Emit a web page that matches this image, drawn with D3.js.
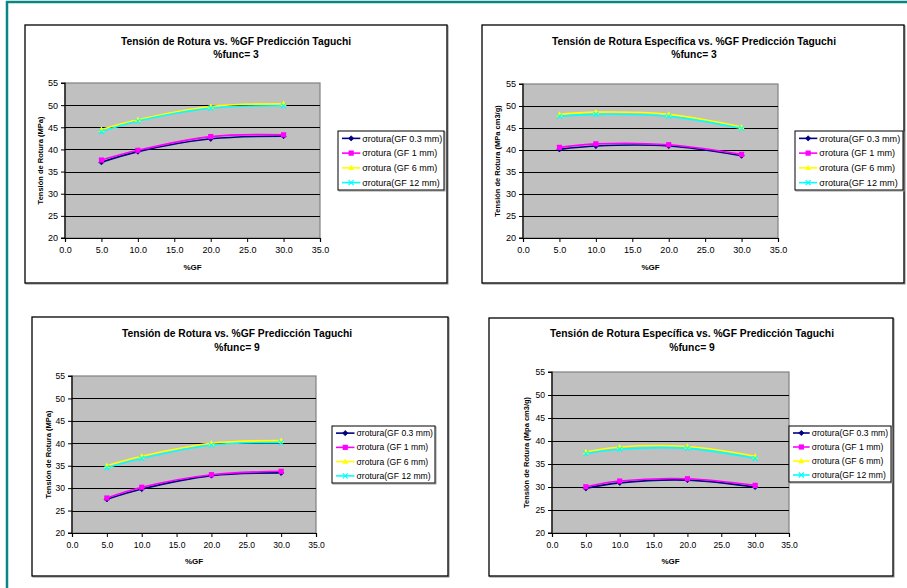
<!DOCTYPE html>
<html><head><meta charset="utf-8">
<script src="https://cdn.jsdelivr.net/npm/d3@7"></script>
<style>body{margin:0;background:#fff} svg{display:block;font-family:"Liberation Sans",Arial,sans-serif}</style>
</head><body><svg id="c" width="907" height="588"></svg>
<script>
// ---- data ----
const gfPercent = [5, 10, 20, 30];
const seriesNames = ["σrotura(GF 0.3 mm)", "σrotura (GF 1 mm)", "σrotura (GF 6 mm)", "σrotura(GF 12 mm)"];
const xTickValues = [0, 5, 10, 15, 20, 25, 30, 35];
const yTickValues = [20, 25, 30, 35, 40, 45, 50, 55];

// Tensión de Rotura, %func = 3
const tr3_gf03 = [37.1, 39.5, 42.4, 43.0];
const tr3_gf1  = [37.6, 39.8, 42.9, 43.3];
const tr3_gf6  = [44.5, 46.7, 49.7, 50.3];
const tr3_gf12 = [44.0, 46.4, 49.3, 49.85];
// Tensión de Rotura Específica, %func = 3
const tre3_gf03 = [40.15, 40.9, 40.9, 38.7];
const tre3_gf1  = [40.6, 41.4, 41.2, 39.0];
const tre3_gf6  = [48.1, 48.6, 48.1, 45.2];
const tre3_gf12 = [47.65, 48.1, 47.65, 44.9];
// Tensión de Rotura, %func = 9
const tr9_gf03 = [27.5, 29.8, 32.8, 33.4];
const tr9_gf1  = [27.8, 30.2, 33.0, 33.75];
const tr9_gf6  = [35.0, 37.1, 40.0, 40.6];
const tr9_gf12 = [34.55, 36.6, 39.6, 40.15];
// Tensión de Rotura Específica, %func = 9
const tre9_gf03 = [29.7, 30.9, 31.5, 30.0];
const tre9_gf1  = [30.05, 31.3, 31.8, 30.35];
const tre9_gf6  = [37.6, 38.7, 38.8, 36.7];
const tre9_gf12 = [37.25, 38.2, 38.4, 36.2];

const titles1 = ["Tensión de Rotura vs. %GF Predicción Taguchi", "Tensión de Rotura Específica vs. %GF Predicción Taguchi",
                 "Tensión de Rotura vs. %GF Predicción Taguchi", "Tensión de Rotura Específica vs. %GF Predicción Taguchi"];
const titles2 = ["%func= 3", "%func= 3", "%func= 9", "%func= 9"];
const yLabels = ["Tensión de Rotura (MPa)", "Tensión de Rotura (MPa cm3/g)", "Tensión de Rotura (MPa)", "Tensión de Rotura (Mpa cm3/g)"];
const xLabel = "%GF";

// ---- styles / layout ----
const colors = ["#000080", "#FF00FF", "#FFFF00", "#00FFFF"];
const markerTypes = ["diamond", "square", "triangle", "x"];
const panels = [
  {data: [tr3_gf03, tr3_gf1, tr3_gf6, tr3_gf12], box: [25, 25, 447, 283], plot: [65, 83, 320, 238], legend: [338, 131, 444, 190], t1: 44.5, tcx: 236, ylx: 40, xly: 270, fs: 9, tx: 24.3},
  {data: [tre3_gf03, tre3_gf1, tre3_gf6, tre3_gf12], box: [482, 25, 904, 283], plot: [523, 84, 778, 238], legend: [795, 131, 903, 190], t1: 44.5, tcx: 694, ylx: 497, xly: 270, fs: 9.1, tx: 24.3},
  {data: [tr9_gf03, tr9_gf1, tr9_gf6, tr9_gf12], box: [32, 317, 448, 576], plot: [72, 376, 316, 533], legend: [332, 426, 435, 483], t1: 337, tcx: 237, ylx: 48, xly: 564, fs: 8.6, tx: 24.5},
  {data: [tre9_gf03, tre9_gf1, tre9_gf6, tre9_gf12], box: [489, 318, 893, 576], plot: [552, 372, 789, 533], legend: [789, 426, 891, 482], t1: 337, tcx: 692, ylx: 526, xly: 564, fs: 8.6, tx: 22.7}
];

const svg = d3.select("#c");
svg.append("rect").attr("width", 907).attr("height", 588).attr("fill", "#fff");
// teal frame (top and left)
svg.append("line").attr("x1", 6).attr("x2", 907).attr("y1", 2).attr("y2", 2).attr("stroke", "#0A8582").attr("stroke-width", 2.5);
svg.append("line").attr("x1", 7).attr("x2", 7).attr("y1", 1).attr("y2", 588).attr("stroke", "#0A8582").attr("stroke-width", 2.5);

function drawMarker(g, type, x, y, color) {
  const s = 2.6;
  if (type === "diamond") {
    g.append("path").attr("d", `M${x},${y - s}L${x + s},${y}L${x},${y + s}L${x - s},${y}Z`).attr("fill", color).attr("stroke", color).attr("stroke-width", 0.8);
  } else if (type === "square") {
    g.append("rect").attr("x", x - 2.6).attr("y", y - 2.6).attr("width", 5.2).attr("height", 5.2).attr("fill", color);
  } else if (type === "triangle") {
    g.append("path").attr("d", `M${x},${y - 3.2}L${x + 3},${y + 2.2}L${x - 3},${y + 2.2}Z`).attr("fill", color);
  } else {
    g.append("path").attr("d", `M${x - 2.5},${y - 2.5}L${x + 2.5},${y + 2.5}M${x - 2.5},${y + 2.5}L${x + 2.5},${y - 2.5}`).attr("stroke", color).attr("stroke-width", 1.2);
  }
}

panels.forEach((p, i) => {
  const g = svg.append("g");
  const [bx0, by0, bx1, by1] = p.box;
  const [px0, py0, px1, py1] = p.plot;
  // panel frame
  g.append("rect").attr("x", bx0 + 1).attr("y", by0 + 1).attr("width", bx1 - bx0).attr("height", by1 - by0).attr("fill", "none").attr("stroke", "#888").attr("stroke-width", 1);
  g.append("rect").attr("x", bx0).attr("y", by0).attr("width", bx1 - bx0).attr("height", by1 - by0).attr("fill", "#fff").attr("stroke", "#000").attr("stroke-width", 1.3);

  const x = d3.scaleLinear().domain([0, 35]).range([px0, px1]);
  const y = d3.scaleLinear().domain([20, 55]).range([py1, py0]);

  // plot area
  g.append("rect").attr("x", px0).attr("y", py0).attr("width", px1 - px0).attr("height", py1 - py0).attr("fill", "#C0C0C0").attr("stroke", "#808080").attr("stroke-width", 1.2);
  // gridlines
  g.append("g").selectAll("line").data(yTickValues.filter(v => v > 20 && v < 55)).join("line")
    .attr("x1", px0).attr("x2", px1).attr("y1", d => Math.round(y(d)) + 0.5).attr("y2", d => Math.round(y(d)) + 0.5)
    .attr("stroke", "#000").attr("stroke-width", 1);

  // axes
  const yAxis = g.append("g").attr("transform", `translate(${px0},0)`)
    .call(d3.axisLeft(y).tickValues(yTickValues).tickSize(4).tickPadding(3).tickFormat(d3.format("d")));
  const xAxis = g.append("g").attr("transform", `translate(0,${py1})`)
    .call(d3.axisBottom(x).tickValues(xTickValues).tickSize(4).tickPadding(5).tickFormat(d3.format(".1f")));
  [yAxis, xAxis].forEach(a => {
    a.select(".domain").attr("stroke", "#000").attr("stroke-width", 1.2);
    a.selectAll(".tick line").attr("stroke", "#000");
    a.selectAll("text").attr("font-family", "Liberation Sans, Arial, sans-serif").attr("font-size", p.fs).attr("fill", "#000");
  });
  yAxis.select(".domain").attr("d", `M-4,${py0}H0V${py1}H-4`);

  // titles
  g.append("text").attr("x", p.tcx).attr("y", p.t1).attr("text-anchor", "middle").attr("font-weight", "bold").attr("font-size", 10.3).text(titles1[i]);
  g.append("text").attr("x", p.tcx).attr("y", p.t1 + 13.5).attr("text-anchor", "middle").attr("font-weight", "bold").attr("font-size", 10.3).text(titles2[i]);
  g.append("text").attr("x", (px0 + px1) / 2).attr("y", p.xly).attr("text-anchor", "middle").attr("font-weight", "bold").attr("font-size", 8).text(xLabel);
  g.append("text").attr("transform", `translate(${p.ylx},${(py0 + py1) / 2}) rotate(-90)`).attr("text-anchor", "middle")
    .attr("dy", "0.35em").attr("font-weight", "bold").attr("font-size", 7.5).text(yLabels[i]);

  // series
  const line = d3.line().x((d, k) => x(gfPercent[k])).y(d => y(d)).curve(d3.curveCatmullRom.alpha(0.5));
  p.data.forEach((vals, s) => {
    g.append("path").attr("d", line(vals)).attr("fill", "none").attr("stroke", colors[s]).attr("stroke-width", 1.6);
  });
  p.data.forEach((vals, s) => {
    vals.forEach((v, k) => drawMarker(g, markerTypes[s], x(gfPercent[k]), y(v), colors[s]));
  });

  // legend
  const [lx0, ly0, lx1, ly1] = p.legend;
  g.append("rect").attr("x", lx0 + 1).attr("y", ly0 + 1).attr("width", lx1 - lx0).attr("height", ly1 - ly0).attr("fill", "none").attr("stroke", "#999");
  g.append("rect").attr("x", lx0).attr("y", ly0).attr("width", lx1 - lx0).attr("height", ly1 - ly0).attr("fill", "#fff").attr("stroke", "#000").attr("stroke-width", 1);
  const step = (ly1 - ly0) / 4;
  seriesNames.forEach((name, s) => {
    const yy = ly0 + step * (s + 0.5);
    g.append("line").attr("x1", lx0 + 4).attr("x2", lx0 + p.tx - 2).attr("y1", yy).attr("y2", yy).attr("stroke", colors[s]).attr("stroke-width", 1.6);
    drawMarker(g, markerTypes[s], lx0 + (p.tx + 2) / 2, yy, colors[s]);
    g.append("text").attr("x", lx0 + p.tx).attr("y", yy).attr("dy", "0.35em").attr("font-size", p.fs).text(name);
  });
});
</script></body></html>
